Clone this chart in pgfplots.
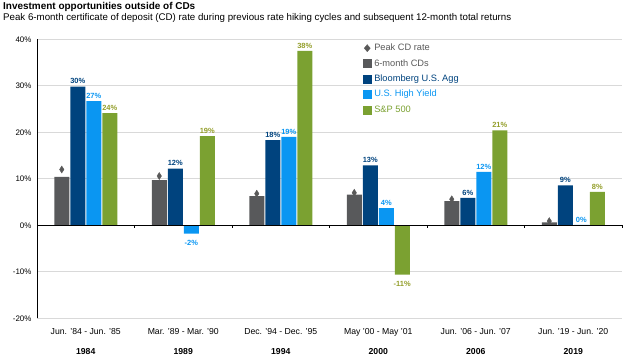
\documentclass[border=0pt]{standalone}
\usepackage{pgfplots}
\pgfplotsset{compat=1.18}
\usepackage{pgfplotstable}
\usepackage{fontspec}
\setmainfont{Liberation Sans}
\definecolor{cdgray}{HTML}{58595B}
\definecolor{dmgray}{HTML}{595959}
\definecolor{aggblue}{HTML}{00437E}
\definecolor{hyblue}{HTML}{0A96F2}
\definecolor{spgreen}{HTML}{7BA131}
\definecolor{splab}{HTML}{939E2A}
\definecolor{gridgray}{HTML}{D9D9D9}

\pgfplotstableread{
x y
0 10.4
1 9.7
2 6.25
3 6.6
4 5.2
5 0.65
}\cddata
\pgfplotstableread{
x y
-0.246 12.0
0.754 10.6
1.754 6.8
2.754 7.0
3.754 5.6
4.754 0.9
}\peakdata
\pgfplotstableread{
x y lab
0 29.8 30
1 12.2 12
2 18.3 18
3 12.9 13
4 5.9 6
5 8.6 9
}\aggdata
\pgfplotstableread{
x y lab
0 26.7 27
1 -1.8 -2
2 19.0 19
3 3.7 4
4 11.5 12
5 0.1 0
}\hydata
\pgfplotstableread{
x y lab
0 24.1 24
1 19.2 19
2 37.5 38
3 -10.6 -11
4 20.4 21
5 7.2 8
}\spdata

\begin{document}
\begin{tikzpicture}
\path[use as bounding box] (0,0) rectangle (624bp,364bp);
\node[anchor=base west, inner sep=0pt, font=\fontsize{10}{12}\selectfont\bfseries] at (3bp,354bp) {Investment opportunities outside of CDs};
\node[anchor=base west, inner sep=0pt, font=\fontsize{9.75}{11}\selectfont] at (3bp,343.5bp) {Peak 6-month certificate of deposit (CD) rate during previous rate hiking cycles and subsequent 12-month total returns};
\begin{axis}[
  at={(37bp,45.7bp)}, anchor=south west,
  width=585bp, height=279bp, scale only axis,
  xmin=-0.5, xmax=5.5, ymin=-20, ymax=40,
  ytick={-20,-10,0,10,20,30,40},
  yticklabel={\pgfmathprintnumber{\tick}\%},
  /pgf/number format/assume math mode=true,
  yticklabel style={font=\fontsize{8}{9}\selectfont, xshift=-2bp},
  xtick={0,1,2,3,4,5},
  xticklabels={{Jun. '84 - Jun. '85\\[10pt]\textbf{1984}},
               {Mar. '89 - Mar. '90\\[10pt]\textbf{1989}},
               {Dec. '94 - Dec. '95\\[10pt]\textbf{1994}},
               {May '00 - May '01\\[10pt]\textbf{2000}},
               {Jun. '06 - Jun. '07\\[10pt]\textbf{2006}},
               {Jun. '19 - Jun. '20\\[10pt]\textbf{2019}}},
  xticklabel style={font=\fontsize{8.7}{10}\selectfont, align=center, yshift=-7bp},
  xtick style={draw=none},
  ytick style={draw=none},
  axis line style={draw=none},
  ymajorgrids, grid style={gridgray, line width=0.8bp},
  clip=false,
  legend style={at={(rel axis cs:0.557,0.985)}, anchor=north west, draw=none, fill=none,
    font=\fontsize{9.3}{10}\selectfont, inner sep=0pt,
    nodes={inner ysep=0pt, inner xsep=2.8bp, text height=7bp, text depth=2bp}, row sep=6.4bp},
  legend cell align=left,
  nodes near coords={\pgfplotspointmeta\%},
  point meta=explicit symbolic,
  visualization depends on={\thisrow{y} \as \rawy},
  every node near coord/.append style={font=\fontsize{7.5}{9}\selectfont\bfseries,
    /utils/exec={\pgfmathparse{\rawy<0}\ifdim\pgfmathresult pt>0.5pt\def\myanc{north}\def\myys{-4bp}\else\def\myanc{south}\def\myys{0bp}\fi},
    anchor=\myanc, yshift=\myys, inner sep=2.5bp},
]
\addlegendimage{legend image code/.code={\fill[dmgray] (4bp,3.5bp) -- (7bp,0) -- (4bp,-3.5bp) -- (1bp,0) -- cycle;}}
\addlegendentry{\textcolor{dmgray}{Peak CD rate}}
\addlegendimage{legend image code/.code={\fill[cdgray] (0,-4bp) rectangle (8bp,4bp);}}
\addlegendentry{\textcolor{dmgray}{6-month CDs}}
\addlegendimage{legend image code/.code={\fill[aggblue] (0,-4bp) rectangle (8bp,4bp);}}
\addlegendentry{\textcolor{aggblue}{Bloomberg U.S. Agg}}
\addlegendimage{legend image code/.code={\fill[hyblue] (0,-4bp) rectangle (8bp,4bp);}}
\addlegendentry{\textcolor{hyblue}{U.S. High Yield}}
\addlegendimage{legend image code/.code={\fill[spgreen] (0,-4bp) rectangle (8bp,4bp);}}
\addlegendentry{\textcolor{spgreen}{S\&P 500}}

\addplot[forget plot, ybar, bar width=15bp, bar shift=-24bp, fill=cdgray, draw=none, nodes near coords=] table[x=x,y=y] {\cddata};
\addplot[forget plot, ybar, bar width=15bp, bar shift=-8bp, fill=aggblue, draw=none,
  every node near coord/.append style={text=aggblue, xshift=-8bp}] table[x=x,y=y,meta=lab] {\aggdata};
\addplot[forget plot, ybar, bar width=15bp, bar shift=8bp, fill=hyblue, draw=none,
  every node near coord/.append style={text=hyblue, xshift=8bp}] table[x=x,y=y,meta=lab] {\hydata};
\addplot[forget plot, ybar, bar width=15bp, bar shift=24bp, fill=spgreen, draw=none,
  every node near coord/.append style={text=splab, xshift=24bp}] table[x=x,y=y,meta=lab] {\spdata};
\addplot[forget plot, only marks, mark=diamond*, mark size=3.5bp, mark options={fill=dmgray, draw=dmgray, xscale=0.85}, nodes near coords=] table[x=x,y=y] {\peakdata};

\draw[black, line width=0.8bp] (axis cs:-0.5,-20) -- (axis cs:-0.5,40);
\draw[black, line width=0.8bp] (axis cs:-0.5,0) -- (axis cs:5.5,0);
\pgfplotsinvokeforeach{0.5,1.5,2.5,3.5,4.5,5.5}{\draw[black, line width=0.6bp] (axis cs:#1,0) -- ([yshift=-3bp]axis cs:#1,0);}
\end{axis}
\end{tikzpicture}
\end{document}
